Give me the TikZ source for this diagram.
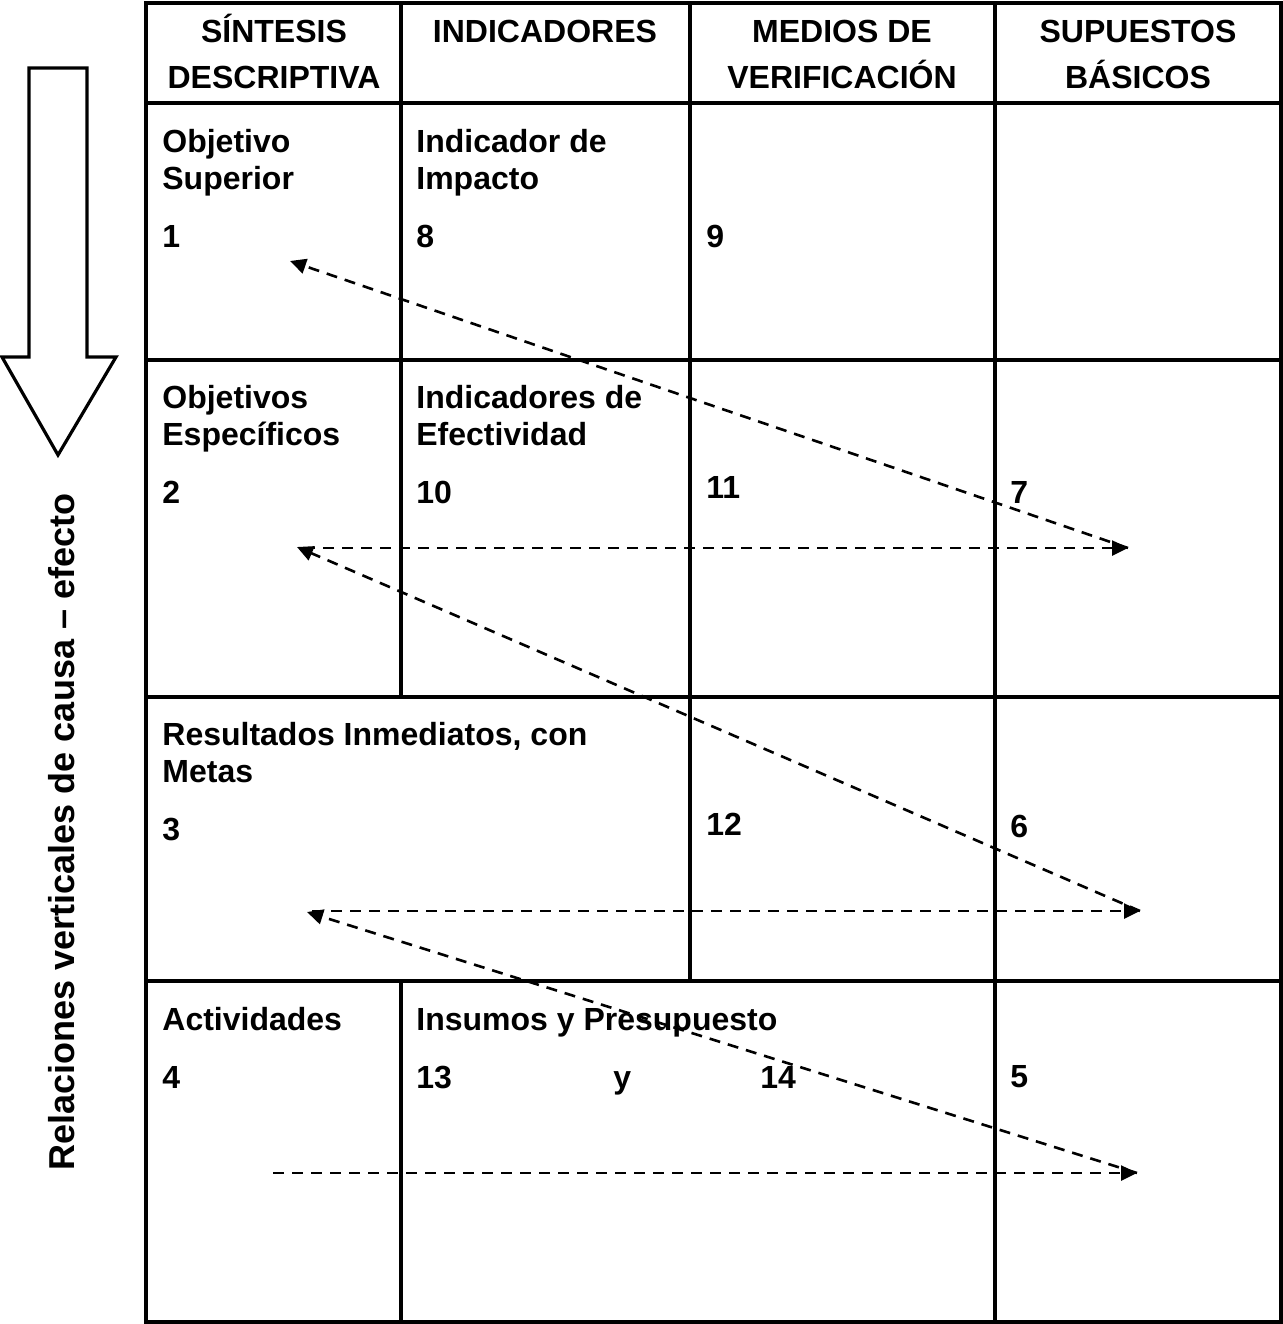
\documentclass[tikz,border=0pt]{standalone}
\usepackage{fontspec}
\setmainfont{Liberation Sans}
\usetikzlibrary{arrows.meta}
\begin{document}
\begin{tikzpicture}[x=0.5pt,y=-0.5pt,
  gridline/.style={line width=1.9pt, line cap=rect},
  txt/.style={inner sep=0pt, font=\bfseries\fontsize{16pt}{18pt}\selectfont},
  lbl/.style={txt, anchor=base west},
  hdr/.style={txt, anchor=base},
  dashline/.style={line width=1.3pt, dash pattern=on 5.5pt off 4pt},
  flow/.style={dashline, -{Triangle[length=8pt,width=7.5pt]}},
  bigarrow/.style={line width=1.6pt, line join=miter, fill=white}]
\useasboundingbox (0,0) rectangle (1283,1324);

% hollow downward arrow
\draw[bigarrow] (29,68) -- (87,68) -- (87,357) -- (116,357) -- (58,455)
  -- (2,357) -- (29,357) -- cycle;
\node[inner sep=0pt, anchor=base, rotate=90,
  font=\bfseries\fontsize{18pt}{20pt}\selectfont] (vlabel) at (75,832)
  {Relaciones verticales de causa – efecto};

% table frame and rules
\draw[gridline] (146,3) rectangle (1281,1322);
\draw[gridline] (146,103) -- (1281,103);
\draw[gridline] (146,360) -- (1281,360);
\draw[gridline] (146,697) -- (1281,697);
\draw[gridline] (146,981) -- (1281,981);
\draw[gridline] (401,3) -- (401,697);
\draw[gridline] (401,981) -- (401,1322);
\draw[gridline] (690,3) -- (690,981);
\draw[gridline] (995,3) -- (995,1322);

% column headers
\node[hdr] (h1a) at (274,42) {SÍNTESIS};
\node[hdr] (h1b) at (274,88) {DESCRIPTIVA};
\node[hdr] (h2a) at (545,42) {INDICADORES};
\node[hdr] (h3a) at (842,42) {MEDIOS DE};
\node[hdr] (h3b) at (842,88) {VERIFICACIÓN};
\node[hdr] (h4a) at (1138,42) {SUPUESTOS};
\node[hdr] (h4b) at (1138,88) {BÁSICOS};

% row 1
\node[lbl] (r1a) at (162,152) {Objetivo};
\node[lbl] (r1b) at (162,189) {Superior};
\node[lbl] (n1)  at (162,247) {1};
\node[lbl] (r1c) at (416,152) {Indicador de};
\node[lbl] (r1d) at (416,189) {Impacto};
\node[lbl] (n8)  at (416,247) {8};
\node[lbl] (n9)  at (706,247) {9};

% row 2
\node[lbl] (r2a) at (162,408) {Objetivos};
\node[lbl] (r2b) at (162,445) {Específicos};
\node[lbl] (n2)  at (162,503) {2};
\node[lbl] (r2c) at (416,408) {Indicadores de};
\node[lbl] (r2d) at (416,445) {Efectividad};
\node[lbl] (n10) at (416,503) {10};
\node[lbl] (n11) at (706,498) {11};
\node[lbl] (n7)  at (1010,503) {7};

% row 3
\node[lbl] (r3a) at (162,745) {Resultados Inmediatos, con};
\node[lbl] (r3b) at (162,782) {Metas};
\node[lbl] (n3)  at (162,840) {3};
\node[lbl] (n12) at (706,835) {12};
\node[lbl] (n6)  at (1010,837) {6};

% row 4
\node[lbl] (r4a) at (162,1030) {Actividades};
\node[lbl] (r4b) at (416,1030) {Insumos y Presupuesto};
\node[lbl] (n4)  at (162,1088) {4};
\node[lbl] (n13) at (416,1088) {13};
\node[lbl] (ny)  at (613,1088) {y};
\node[lbl] (n14) at (760,1088) {14};
\node[lbl] (n5)  at (1010,1087) {5};

% points of the zig-zag reading path
\coordinate (s4) at (273,1173);
\coordinate (p5) at (1137,1173);
\coordinate (p3) at (307,912);
\coordinate (s3) at (312,911);
\coordinate (p6) at (1140,911);
\coordinate (p2) at (297,547);
\coordinate (s2) at (304,548);
\coordinate (p7) at (1128,548);
\coordinate (p1) at (290,261);

\draw[flow] (s4) -- (p5);
\draw[flow] (p5) -- (p3);
\draw[flow] (s3) -- (p6);
\draw[flow] (p6) -- (p2);
\draw[flow] (s2) -- (p7);
\draw[flow] (p7) -- (p1);
\end{tikzpicture}
\end{document}
